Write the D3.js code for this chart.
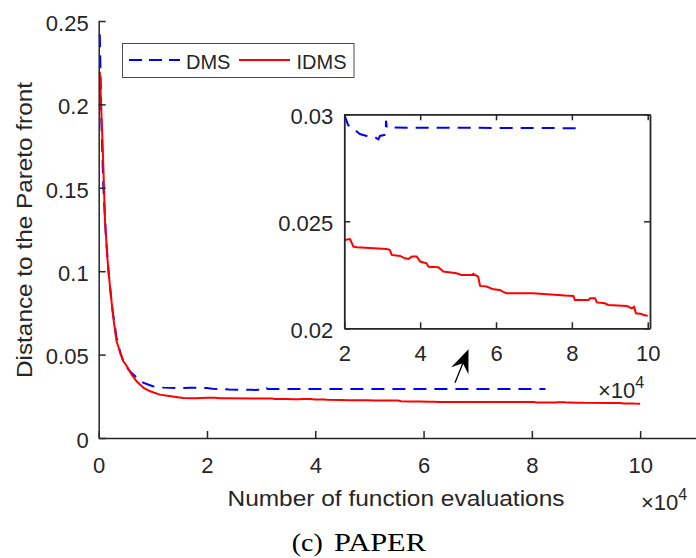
<!DOCTYPE html>
<html>
<head>
<meta charset="utf-8">
<script src="https://cdn.jsdelivr.net/npm/d3@7"></script>
<style>
  body { margin:0; background:#fff; }
  text { font-family: "Liberation Sans", Arial, sans-serif; fill:#262626; }
  text.serif { font-family: "Liberation Serif", "Times New Roman", serif; fill:#000; }
</style>
</head>
<body>
<div id="chart"></div>
<script>
// function evaluations (x 10^4) and distance to the Pareto front
var dmsX = [0.02,0.05,0.086,0.13,0.18,0.25,0.33,0.40,0.455,0.55,0.64,0.75,0.83,1.0,1.2,1.44,1.7,2.0,
            2.1,2.28,2.41,2.59,2.81,2.9,2.94,3.09,3.1,3.12,5.0,8.25];
var dmsY = [0.242,0.19,0.150,0.123,0.100,0.078,0.060,0.051,0.046,0.041,0.038,0.035,0.033,0.031,0.0302,0.0300,0.0301,0.0300,
            0.0295,0.02927,0.02908,0.02899,0.02893,0.02883,0.02899,0.02905,0.0297,0.02938,0.02937,0.02935];

var idmsX = [0.02,0.074,0.117,0.16,0.21,0.27,0.33,0.39,0.455,0.52,0.61,0.7,0.83,0.95,1.13,1.3,1.56,1.8,
             2.0,2.15,2.24,2.33,3.12,3.2,3.25,3.47,3.6,3.69,3.78,3.91,4.0,4.17,4.22,4.48,4.61,4.96,5.09,5.36,
             5.4,5.53,5.58,5.75,5.93,6.1,6.19,6.28,6.98,7.82,8.04,8.08,8.44,8.48,8.61,8.66,8.87,8.96,9.45,
             9.58,9.64,9.69,9.84,9.89,10.0];
var idmsY = [0.2195,0.1745,0.130,0.108,0.090,0.072,0.058,0.052,0.046,0.043,0.038,0.034,0.030,0.028,0.026,0.0252,0.0240,0.0239,
             0.02413,0.02417,0.02382,0.02379,0.02371,0.02366,0.02343,0.02338,0.02327,0.02324,0.02335,0.02335,0.02312,0.02304,
             0.02288,0.02285,0.02265,0.02257,0.02249,0.02249,0.02254,0.02241,0.02198,0.02195,0.02182,0.02179,0.0217,0.02164,
             0.02164,0.02153,0.02151,0.02132,0.02132,0.0214,0.0214,0.02121,0.02117,0.02109,0.02104,0.02093,0.021,0.0207,
             0.02067,0.02062,0.02059];

var mainXTicks = [0,2,4,6,8,10];
var mainYTicks = [0,0.05,0.1,0.15,0.2,0.25];
var insetXTicks = [2,4,6,8,10];
var insetYTicks = [0.02,0.025,0.03];
var seriesNames = ["DMS","IDMS"];

var dms = dmsX.map(function(d,i){ return [d, dmsY[i]]; });
var idms = idmsX.map(function(d,i){ return [d, idmsY[i]]; });

var W = 696, H = 558;
var axisColor = "#262626";

var svg = d3.select("#chart").append("svg")
    .attr("width", W).attr("height", H);

// ---- main axes
var x = d3.scaleLinear().domain([0, 11.05]).range([98.7, 697]);
var y = d3.scaleLinear().domain([0, 0.25]).range([438, 21]);

var line = d3.line().x(function(d){return x(d[0]);}).y(function(d){return y(d[1]);});

svg.append("path").datum(dms)
    .attr("d", line).attr("fill","none")
    .attr("stroke","#0000ff").attr("stroke-width",2).attr("stroke-dasharray","13,8");
svg.append("path").datum(idms)
    .attr("d", line).attr("fill","none")
    .attr("stroke","#ff0000").attr("stroke-width",2);

var xAxis = svg.append("g").attr("transform","translate(0,438)")
    .call(d3.axisBottom(x).tickValues(mainXTicks).tickSizeInner(-7).tickSizeOuter(0).tickPadding(19)
          .tickFormat(d3.format("d")));
var yAxis = svg.append("g").attr("transform","translate(98.7,0)")
    .call(d3.axisLeft(y).tickValues(mainYTicks).tickSizeInner(-7).tickSizeOuter(0).tickPadding(10)
          .tickFormat(function(d){ return d === 0 ? "0" : String(+d.toFixed(3)); }));

[xAxis, yAxis].forEach(function(a){
  a.select(".domain").attr("stroke", axisColor).attr("stroke-width",1.5);
  a.selectAll(".tick line").attr("stroke", axisColor).attr("stroke-width",1.5);
  a.selectAll(".tick text").attr("font-size",22).attr("fill",axisColor);
});
yAxis.selectAll(".tick text").attr("dy","0.42em");

// axis labels
svg.append("text").attr("x", 396).attr("y", 506)
    .attr("text-anchor","middle").attr("font-size",22)
    .attr("textLength",337).attr("lengthAdjust","spacingAndGlyphs")
    .text("Number of function evaluations");
svg.append("text").attr("transform","translate(32,230) rotate(-90)")
    .attr("text-anchor","middle").attr("font-size",22)
    .attr("textLength",296).attr("lengthAdjust","spacingAndGlyphs")
    .text("Distance to the Pareto front");

// x10^4 main
var mexp = svg.append("text").attr("x", 641).attr("y", 510).attr("font-size",22);
mexp.append("tspan").text("\u00d7");
mexp.append("tspan").text("10");
mexp.append("tspan").attr("font-size",16).attr("dy",-10).text("4");

// ---- legend
var leg = svg.append("g");
leg.append("rect").attr("x",122.5).attr("y",43.5).attr("width",231.5).attr("height",34)
    .attr("fill","#fff").attr("stroke","#4d4d4d").attr("stroke-width",1);
leg.append("line").attr("x1",129).attr("x2",180).attr("y1",60).attr("y2",60)
    .attr("stroke","#0000ff").attr("stroke-width",2).attr("stroke-dasharray","13,7");
leg.append("text").attr("x",186).attr("y",68.5).attr("font-size",20).text(seriesNames[0]);
leg.append("line").attr("x1",239).attr("x2",290).attr("y1",60).attr("y2",60)
    .attr("stroke","#ff0000").attr("stroke-width",2);
leg.append("text").attr("x",296.5).attr("y",68.5).attr("font-size",20).text(seriesNames[1]);

// ---- inset
var ix = d3.scaleLinear().domain([2, 10.06]).range([344.3, 650]);
var iy = d3.scaleLinear().domain([0.02, 0.03]).range([328.3, 114.3]);
var iline = d3.line().x(function(d){return ix(d[0]);}).y(function(d){return iy(d[1]);});

var inset = svg.append("g");
inset.append("rect").attr("x",344.3).attr("y",114.3).attr("width",650-344.3).attr("height",328.3-114.3)
    .attr("fill","#fff");
svg.append("clipPath").attr("id","iclip").append("rect")
    .attr("x",344.3).attr("y",114.3).attr("width",650-344.3).attr("height",328.3-114.3);

var ig = inset.append("g").attr("clip-path","url(#iclip)");
ig.append("path").datum(dms.filter(function(d){return d[0] >= 1.9;}))
    .attr("d", iline).attr("fill","none")
    .attr("stroke","#0000ff").attr("stroke-width",2).attr("stroke-dasharray","13,8");
ig.append("path").datum(idms.filter(function(d){return d[0] >= 1.9;}))
    .attr("d", iline).attr("fill","none")
    .attr("stroke","#ff0000").attr("stroke-width",2);

var ixAxis = inset.append("g").attr("transform","translate(0,328.3)")
    .call(d3.axisBottom(ix).tickValues(insetXTicks).tickSizeInner(-6).tickSizeOuter(0).tickPadding(17)
          .tickFormat(d3.format("d")));
var iyAxis = inset.append("g").attr("transform","translate(344.3,0)")
    .call(d3.axisLeft(iy).tickValues(insetYTicks).tickSizeInner(-6).tickSizeOuter(0).tickPadding(11)
          .tickFormat(function(d){ return String(+d.toFixed(3)); }));
var ixTop = inset.append("g").attr("transform","translate(0,114.3)")
    .call(d3.axisTop(ix).tickValues(insetXTicks).tickSizeInner(-6).tickSizeOuter(0).tickFormat(""));
var iyRight = inset.append("g").attr("transform","translate(650,0)")
    .call(d3.axisRight(iy).tickValues(insetYTicks).tickSizeInner(-6).tickSizeOuter(0).tickFormat(""));

[ixAxis, iyAxis, ixTop, iyRight].forEach(function(a){
  a.select(".domain").attr("stroke", axisColor).attr("stroke-width",1.8);
  a.selectAll(".tick line").attr("stroke", axisColor).attr("stroke-width",1.5);
  a.selectAll(".tick text").attr("font-size",22).attr("fill",axisColor);
});
iyAxis.selectAll(".tick text").attr("dy","0.4em");

var iexp = svg.append("text").attr("x", 598).attr("y", 398).attr("font-size",22);
iexp.append("tspan").text("\u00d7");
iexp.append("tspan").text("10");
iexp.append("tspan").attr("font-size",16).attr("dy",-10).text("4");

// ---- arrow pointing at the inset (drawn in main data coords)
var tail = [6.58, 0.0331], tip = [6.83, 0.0532];
var tx = x(tip[0]), ty = y(tip[1]);
var ang = Math.atan2(y(tail[1]) - ty, x(tail[0]) - tx);
function pt(len, off){
  return [tx + len*Math.cos(ang + off), ty + len*Math.sin(ang + off)];
}
svg.append("line").attr("x1", x(tail[0])).attr("y1", y(tail[1]))
    .attr("x2", pt(14,0)[0]).attr("y2", pt(14,0)[1])
    .attr("stroke","#000").attr("stroke-width",1.3);
var head = [[tx,ty], pt(25,0.38), pt(15,0), pt(25,-0.38)];
svg.append("path").attr("d", "M" + head.map(function(p){return p.join(",");}).join("L") + "Z")
    .attr("fill","#000");

// ---- caption
svg.append("text").attr("class","serif").attr("x", 291.7).attr("y", 551)
    .attr("font-size",25).attr("textLength",31).attr("lengthAdjust","spacingAndGlyphs")
    .text("(c)");
svg.append("text").attr("class","serif").attr("x", 334).attr("y", 551)
    .attr("font-size",25).attr("textLength",92).attr("lengthAdjust","spacingAndGlyphs")
    .text("PAPER");
</script>
</body>
</html>
